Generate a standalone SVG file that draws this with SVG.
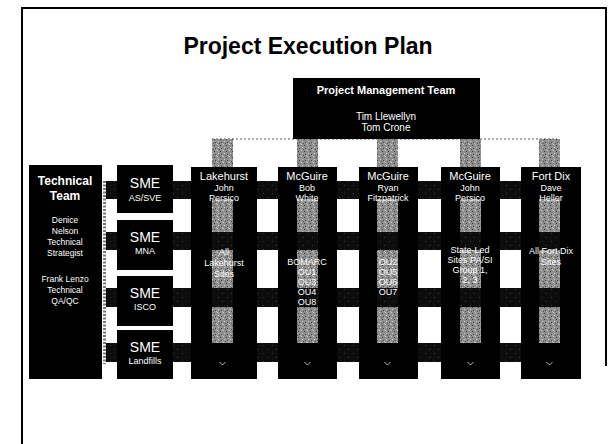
<svg xmlns="http://www.w3.org/2000/svg" width="610" height="444" viewBox="0 0 610 444">
<defs>
<pattern id="speck" width="6" height="6" patternUnits="userSpaceOnUse">
<rect width="6" height="6" fill="#8e8e8e"/>
<rect x="1" y="0" width="1" height="1" fill="#d0d0d0"/>
<rect x="4" y="1" width="1" height="1" fill="#3a3a3a"/>
<rect x="2" y="3" width="1" height="1" fill="#cfcfcf"/>
<rect x="5" y="4" width="1" height="1" fill="#444"/>
<rect x="0" y="5" width="1" height="1" fill="#bbb"/>
<rect x="3" y="5" width="1" height="1" fill="#555"/>
</pattern>
<pattern id="band" width="9" height="8" patternUnits="userSpaceOnUse">
<rect width="9" height="8" fill="#0c0c0c"/>
<rect x="2" y="1" width="1" height="1" fill="#3a3a3a"/>
<rect x="6" y="5" width="1" height="1" fill="#333"/>
</pattern>
<style>
text{font-family:"Liberation Sans",Arial,sans-serif;fill:#fff;text-anchor:middle}
.box{fill:#000}
.title{font-size:23px;font-weight:bold;fill:#000}
.h{font-size:11px}
.hb{font-size:11px;font-weight:bold}
.n{font-size:9px}
.s{font-size:8.5px}
.sme{font-size:14px}
.tt{font-size:12px;font-weight:bold}
.strip{fill:url(#speck)}
.bandr{fill:url(#band)}
.tip{fill:none;stroke:#bbb;stroke-width:1}
</style>
</defs>
<rect width="610" height="444" fill="#fff"/>
<g id="frame" fill="none" stroke="#000" stroke-width="2">
<path d="M22,444 V8 H606 V366"/>
</g>
<g id="title"><text class="title" x="308" y="54">Project Execution Plan</text></g>
<g id="connectors">
<line x1="212" y1="139" x2="557" y2="139" stroke="#aaa" stroke-width="2" stroke-dasharray="2 2"/>
<line x1="104.5" y1="181" x2="104.5" y2="364" stroke="#777" stroke-width="3" stroke-dasharray="2 1.5"/>
<rect class="strip" x="212" y="139" width="21" height="204"/>
<rect class="strip" x="297" y="139" width="21" height="204"/>
<rect class="strip" x="377" y="139" width="21" height="204"/>
<rect class="strip" x="460" y="139" width="21" height="204"/>
<rect class="strip" x="539" y="139" width="21" height="204"/>
<rect class="bandr" x="106" y="181" width="475" height="18"/>
<rect class="bandr" x="106" y="232" width="475" height="18"/>
<rect class="bandr" x="106" y="288" width="475" height="19"/>
<rect class="bandr" x="106" y="343" width="475" height="19"/>
</g>
<g id="pmt">
<rect class="box" x="293" y="78" width="187" height="61"/>
<text class="hb" x="386" y="94">Project Management Team</text>
<text class="h" x="386" y="120" style="font-size:10px">Tim Llewellyn</text>
<text class="h" x="386" y="131" style="font-size:10px">Tom Crone</text>
</g>
<g id="technical-team">
<rect class="box" x="29" y="165" width="73" height="214"/>
<text class="tt" x="65" y="185">Technical</text>
<text class="tt" x="65" y="200">Team</text>
<text class="s" x="65" y="223">Denice</text>
<text class="s" x="65" y="234">Nelson</text>
<text class="s" x="65" y="245">Technical</text>
<text class="s" x="65" y="256">Strategist</text>
<text class="s" x="65" y="282">Frank Lenzo</text>
<text class="s" x="65" y="293">Technical</text>
<text class="s" x="65" y="304">QA/QC</text>
</g>
<g id="sme-as-sve">
<rect class="box" x="117" y="165" width="56" height="48"/>
<text class="sme" x="145" y="188">SME</text>
<text class="n" x="145" y="201">AS/SVE</text>
</g>
<g id="sme-mna">
<rect class="box" x="117" y="220" width="56" height="50"/>
<text class="sme" x="145" y="242">SME</text>
<text class="n" x="145" y="254">MNA</text>
</g>
<g id="sme-isco">
<rect class="box" x="117" y="276" width="56" height="50"/>
<text class="sme" x="145" y="298">SME</text>
<text class="n" x="145" y="310">ISCO</text>
</g>
<g id="sme-landfills">
<rect class="box" x="117" y="330" width="56" height="49"/>
<text class="sme" x="145" y="352">SME</text>
<text class="n" x="145" y="364">Landfills</text>
</g>
<g id="site-lakehurst">
<path class="box" fill-rule="evenodd" d="M191,167 h66 v212 h-66 Z M212,199 h21 v144 h-21 Z"/>
<path class="tip" d="M219.5,362 l3,3 l3,-3"/>
<text class="h" x="224" y="180">Lakehurst</text>
<text class="n" x="224" y="191">John</text>
<text class="n" x="224" y="201">Persico</text>
<text class="n" x="224" y="255">All</text>
<text class="n" x="224" y="266">Lakehurst</text>
<text class="n" x="224" y="277">Sites</text>
</g>
<g id="site-mcguire-white">
<path class="box" fill-rule="evenodd" d="M278,167 h59 v212 h-59 Z M297,199 h21 v144 h-21 Z"/>
<path class="tip" d="M304.5,362 l3,3 l3,-3"/>
<text class="h" x="307" y="180">McGuire</text>
<text class="n" x="307" y="191">Bob</text>
<text class="n" x="307" y="201">White</text>
<text class="n" x="307" y="265">BOMARC</text>
<text class="n" x="307" y="275">OU1</text>
<text class="n" x="307" y="285">OU3</text>
<text class="n" x="307" y="295">OU4</text>
<text class="n" x="307" y="305">OU8</text>
</g>
<g id="site-mcguire-fitzpatrick">
<path class="box" fill-rule="evenodd" d="M359,167 h59 v212 h-59 Z M377,199 h21 v144 h-21 Z"/>
<path class="tip" d="M384.5,362 l3,3 l3,-3"/>
<text class="h" x="388" y="180">McGuire</text>
<text class="n" x="388" y="191">Ryan</text>
<text class="n" x="388" y="201">Fitzpatrick</text>
<text class="n" x="388" y="265">OU2</text>
<text class="n" x="388" y="275">OU5</text>
<text class="n" x="388" y="285">OU6</text>
<text class="n" x="388" y="295">OU7</text>
</g>
<g id="site-mcguire-persico">
<path class="box" fill-rule="evenodd" d="M441,167 h59 v212 h-59 Z M460,199 h21 v144 h-21 Z"/>
<path class="tip" d="M467.5,362 l3,3 l3,-3"/>
<text class="h" x="470" y="180">McGuire</text>
<text class="n" x="470" y="191">John</text>
<text class="n" x="470" y="201">Persico</text>
<text class="n" x="470" y="253">State-Led</text>
<text class="n" x="470" y="263">Sites PA/SI</text>
<text class="n" x="470" y="273">Group 1,</text>
<text class="n" x="470" y="283">2, 3</text>
</g>
<g id="site-fort-dix">
<path class="box" fill-rule="evenodd" d="M521,167 h60 v212 h-60 Z M539,199 h21 v144 h-21 Z"/>
<path class="tip" d="M546.5,362 l3,3 l3,-3"/>
<text class="h" x="551" y="180">Fort Dix</text>
<text class="n" x="551" y="191">Dave</text>
<text class="n" x="551" y="201">Heller</text>
<text class="n" x="551" y="254">All Fort Dix</text>
<text class="n" x="551" y="265">Sites</text>
</g>
</svg>
